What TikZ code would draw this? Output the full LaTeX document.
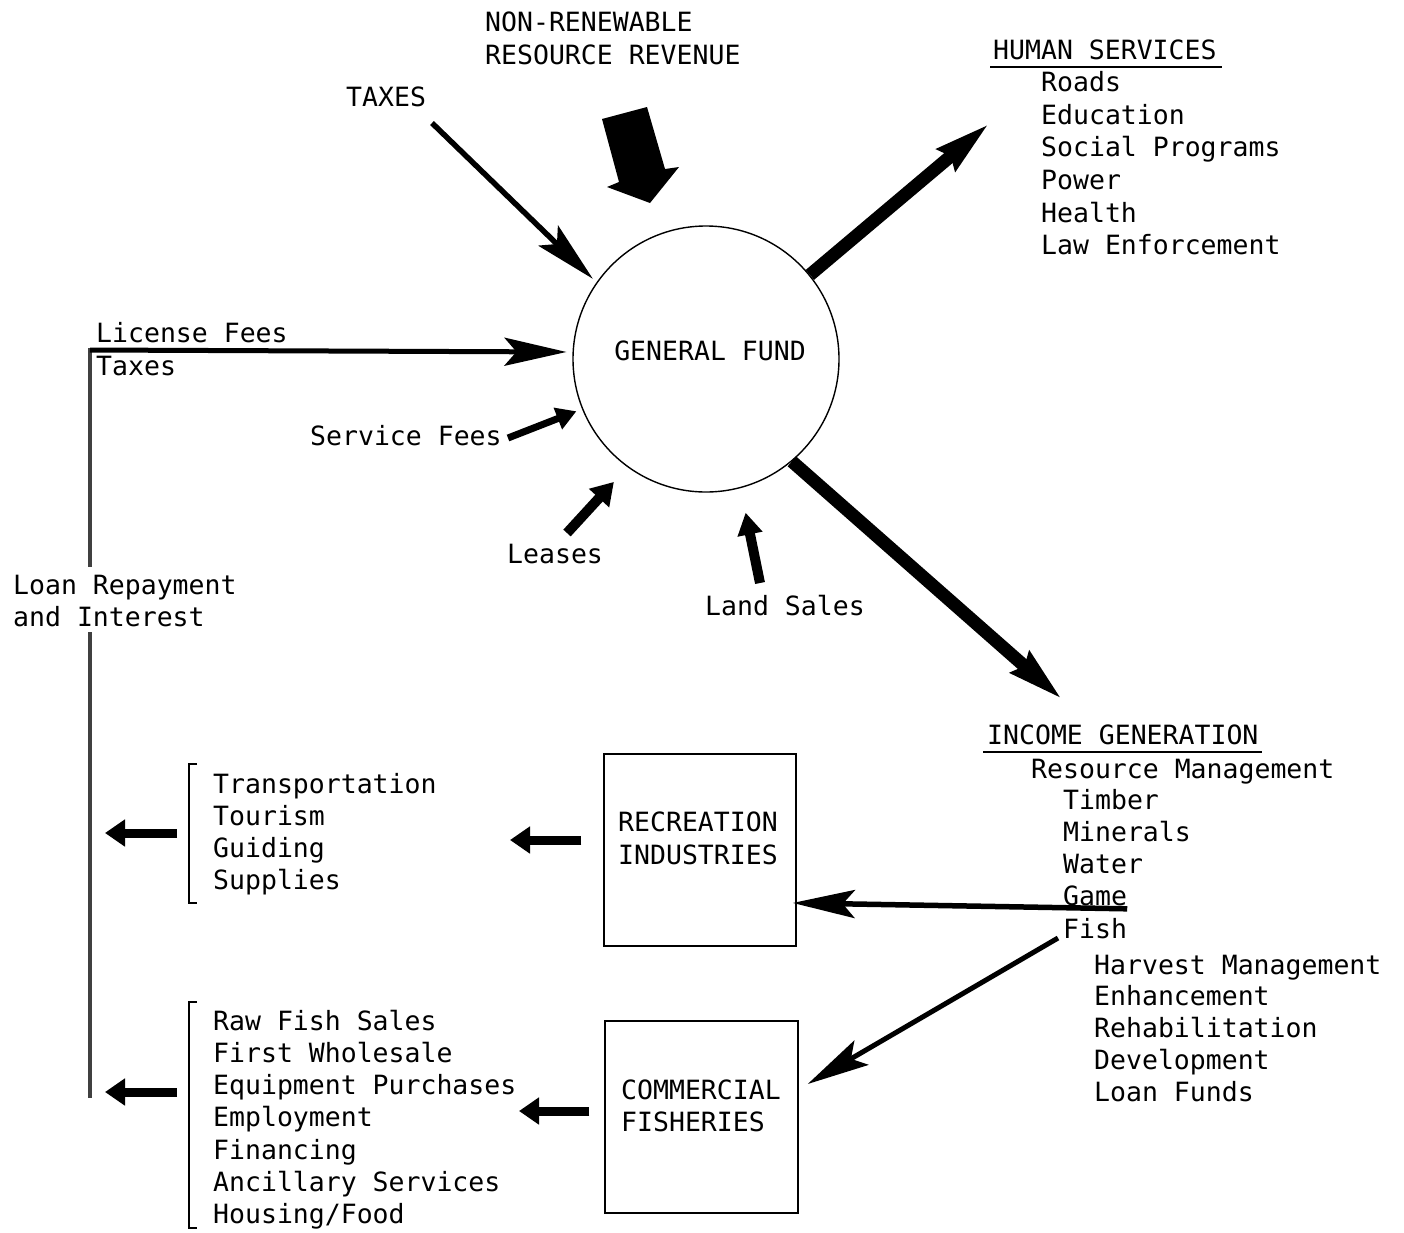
\documentclass[tikz,border=0pt]{standalone}
\usepackage{fontspec}
\setmonofont{DejaVu Sans Mono}
\usetikzlibrary{arrows.meta,calc}
\tikzset{
  txt/.style={font=\ttfamily\fontsize{26.5}{32.4}\selectfont, inner sep=0pt, anchor=base west},
  barb/.style={line width=5.5pt, -{Stealth[length=62pt,width=28pt,inset=12pt]}},
  fatarrow/.style={line width=13pt, -{Stealth[length=55pt,width=26pt,inset=4pt]}},
  stub/.style={line width=9pt, -{Triangle[length=20pt,width=26pt]}},
  vline/.style={line width=3.5pt, black!75},
  box/.style={draw, line width=1.4pt, inner sep=0pt},
  brack/.style={line width=1.3pt},
}
\begin{document}
\begin{tikzpicture}[x=1pt,y=-1pt]
\useasboundingbox (0,0) rectangle (1404,1232);

% general fund
\node[box, circle, minimum size=266pt] (fund) at (706,359) {};
\node[txt, anchor=base] (gf) at (710,360) {GENERAL FUND};

% top labels
\node[txt] (nonren) at (485,31) {NON-RENEWABLE};
\node[txt] (resrev) at (485,64) {RESOURCE REVENUE};
\node[txt] (taxes) at (346,106) {TAXES};

% non-renewable block arrow
\fill (602,119) -- (647,107) -- (665,169) -- (679,167) -- (650,203)
      -- (607,187) -- (619,182) -- cycle;

% taxes arrow
\coordinate (taxstart) at (432,123);
\draw[barb, shorten >=5pt] (taxstart) -- (fund.145);

% human services
\node[txt] (human) at (993,59) {HUMAN SERVICES};
\draw[line width=1.5pt] (990,67) -- (1222,67);
\foreach \t [count=\i] in {Roads,Education,Social Programs,Power,Health,Law Enforcement}
  \node[txt] (hs\i) at (1041,{59+32.6*\i}) {\t};
\coordinate (hstip) at (990,123);
\draw[fatarrow] (fund.39) -- (hstip);

% income generation
\node[txt] (income) at (987,744) {INCOME GENERATION};
\draw[line width=1.5pt] (983,752) -- (1262,752);
\node[txt] (resman) at (1031,778) {Resource Management};
\foreach \t [count=\i] in {Timber,Minerals,Water,Game,Fish}
  \node[txt] (ig\i) at (1063,{777+32.2*\i}) {\t};
\foreach \t [count=\i] in {Harvest Management,Enhancement,Rehabilitation,Development,Loan Funds}
  \node[txt] (fs\i) at (1094,{942.2+31.8*\i}) {\t};
\coordinate (igtip) at (1063,700);
\draw[fatarrow] (fund.310) -- (igtip);

% left side labels
\node[txt] (lic) at (96,342) {License Fees};
\node[txt] (ltax) at (96,375) {Taxes};
\node[txt] (serv) at (310,445) {Service Fees};
\node[txt] (leases) at (507,563) {Leases};
\node[txt] (land) at (705,615) {Land Sales};
\node[txt] (loan1) at (13,594) {Loan Repayment};
\node[txt] (loan2) at (13,626) {and Interest};

% vertical return line
\draw[vline] (90,348) -- (90,567);
\draw[vline] (90,632) -- (90,1098);

% license/taxes arrow
\coordinate (licstart) at (90,350);
\draw[barb, line width=5pt, shorten >=6pt] (licstart) -- (fund.177);

% small inflow arrows
\coordinate (servstart) at (508,438);
\draw[line width=7pt, -{Triangle[length=20pt,width=22pt]}, shorten >=6pt] (servstart) -- (fund.202);
\coordinate (leasestart) at (567,533);
\draw[line width=10pt, -{Triangle[length=22pt,width=26pt]}, shorten >=20pt] (leasestart) -- (fund.234);
\coordinate (landstart) at (760,583);
\draw[line width=10pt, -{Triangle[length=22pt,width=24pt]}, shorten >=25pt] (landstart) -- (fund.285);

% boxes
\node[box, minimum width=192pt, minimum height=192pt] (rec) at (700,850) {};
\node[txt] (rect1) at (618,831) {RECREATION};
\node[txt] (rect2) at (618,864) {INDUSTRIES};
\node[box, minimum width=193pt, minimum height=192pt] (com) at (701.5,1117) {};
\node[txt] (comt1) at (621,1099) {COMMERCIAL};
\node[txt] (comt2) at (621,1131) {FISHERIES};

% game -> recreation, fish -> commercial
\draw[barb, shorten >=-4pt] ([yshift=-3pt]ig4.base east) -- ([yshift=-53pt]rec.east);
\draw[barb, line width=5pt] ([xshift=-5pt]ig5.base west) -- ([xshift=9pt,yshift=33pt]com.east);

% lists with brackets
\draw[brack] (197,764) -- (189,764) -- (189,903) -- (197,903);
\foreach \t [count=\i] in {Transportation,Tourism,Guiding,Supplies}
  \node[txt] (rl\i) at (213,{761+32*\i}) {\t};
\draw[brack] (197,1002) -- (189,1002) -- (189,1228) -- (197,1228);
\foreach \t [count=\i] in {Raw Fish Sales,First Wholesale,Equipment Purchases,Employment,Financing,Ancillary Services,Housing/Food}
  \node[txt] (cl\i) at (213,{997.7+32.3*\i}) {\t};

% outflow arrows
\coordinate (recout) at (510,840);
\draw[stub] ([xshift=-22pt,yshift=10pt]rec.west) -- (recout);
\coordinate (comout) at (519,1111);
\draw[stub] ([xshift=-15pt,yshift=6pt]com.west) -- (comout);
\coordinate (rl) at (105,833);
\draw[stub] (177,833) -- (rl);
\coordinate (cl) at (105,1092);
\draw[stub] (177,1092) -- (cl);
\end{tikzpicture}
\end{document}
